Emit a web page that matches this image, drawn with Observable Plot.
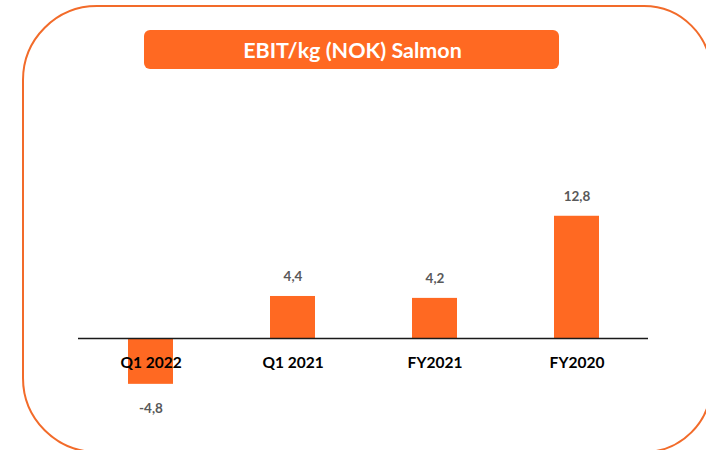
<!DOCTYPE html>
<html>
<head>
<meta charset="utf-8">
<script src="https://cdn.jsdelivr.net/npm/d3@7"></script>
<script src="https://cdn.jsdelivr.net/npm/@observablehq/plot@0.6"></script>
<style>
  html, body { margin: 0; padding: 0; background: #fff; }
  #wrap { position: relative; width: 706px; height: 450px; overflow: hidden; font-family: Lato, "Open Sans", sans-serif; }
  #frame { position: absolute; left: 21.5px; top: 5px; width: 690px; height: 448px; border: 2px solid #F26B2A; border-radius: 75px 68px 68px 75px; box-sizing: border-box; }
  #title { position: absolute; left: 144px; top: 30px; width: 415px; height: 39px; background: #FF6922; border-radius: 6px; color: #fff; font-weight: bold; font-size: 21.5px; display: flex; align-items: center; justify-content: center; padding-left: 2px; box-sizing: border-box; }
  #chart { position: absolute; left: 0; top: 0; }
</style>
</head>
<body>
<div id="wrap">
  <div id="frame"></div>
  <div id="title">EBIT/kg (NOK) Salmon</div>
  <div id="chart"></div>
</div>
<script>
const categories = ["Q1 2022", "Q1 2021", "FY2021", "FY2020"];
const values = [-4.8, 4.4, 4.2, 12.8];
const valueLabels = ["-4,8", "4,4", "4,2", "12,8"];

const data = categories.map((c, i) => ({cat: c, v: values[i], label: valueLabels[i]}));

const chart = Plot.plot({
  width: 706,
  height: 450,
  marginLeft: 78,
  marginRight: 58,
  marginTop: 147,
  marginBottom: 16.5,
  style: {background: "transparent", fontFamily: "Lato, 'Open Sans', sans-serif"},
  x: {domain: categories, paddingInner: 0.684, paddingOuter: 0.342, axis: null},
  y: {domain: [-10, 20], axis: null},
  marks: [
    Plot.barY(data, {x: "cat", y: "v", fill: "#FF6922"}),
    Plot.ruleY([0], {stroke: "#1a1a1a", strokeWidth: 1.5}),
    Plot.text(data, {x: "cat", y: 0, text: "cat", dy: 25, fontSize: 15.5, fontWeight: "bold", fill: "#000"}),
    Plot.text(data.filter(d => d.v >= 0), {x: "cat", y: "v", text: "label", dy: -20, fontSize: 13.5, fontWeight: "bold", fill: "#595959"}),
    Plot.text(data.filter(d => d.v < 0), {x: "cat", y: "v", text: "label", dy: 24, fontSize: 13.5, fontWeight: "bold", fill: "#595959"})
  ]
});
document.getElementById("chart").appendChild(chart);
</script>
</body>
</html>
